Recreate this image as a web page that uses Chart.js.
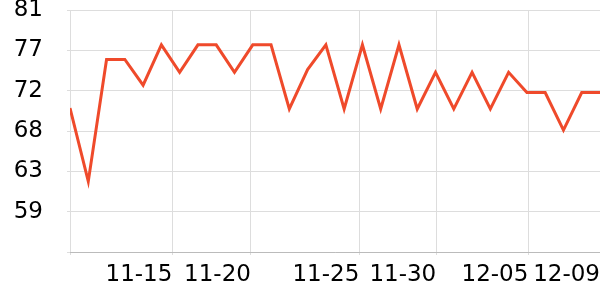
<!DOCTYPE html>
<html>
<head>
<meta charset="utf-8">
<script src="https://cdn.jsdelivr.net/npm/chart.js@4"></script>
<style>
  html, body { margin: 0; padding: 0; background: #fff; }
  #wrap { width: 600px; height: 300px; }
</style>
</head>
<body>
<div id="wrap"><canvas id="tempChart"></canvas></div>
<script>
// One reading per sample, samples are evenly spaced along x
const values = [70.3, 62.3, 75.6, 75.6, 72.8, 77.2, 74.2, 77.2, 77.2, 74.2,
                77.2, 77.2, 70.2, 74.5, 77.2, 70.2, 77.2, 70.2, 77.2, 70.2,
                74.2, 70.2, 74.2, 70.2, 74.2, 72.0, 72.0, 67.9, 72.0, 72.0];

// Date ticks fall between samples, so they are given as sample positions
const xTickPos = [0, 5.6, 9.9, 15.83, 20.04, 25.08, 29];
const xTickLabels = ['', '11-15', '11-20', '11-25', '11-30', '12-05', '12-09'];

// y ticks (labels are rounded)
const yTickPos = [54.6, 59, 63.4, 67.8, 72.2, 76.6, 81];
const yTickLabels = ['', '59', '63', '68', '72', '77', '81'];

const tickFont = { family: 'DejaVu Sans', size: 23 };

document.addEventListener('DOMContentLoaded', () => {
    const ctx = document.getElementById('tempChart');
    new Chart(ctx, {
        type: 'line',
        data: {
            datasets: [{
                data: values.map((v, i) => ({ x: i, y: v })),
                borderColor: '#ef4a2b',
                borderWidth: 3,
                pointRadius: 0,
                tension: 0
            }]
        },
        options: {
            responsive: true,
            maintainAspectRatio: false,
            animation: false,
            layout: { padding: 0 },
            plugins: {
                legend: { display: false },
                tooltip: { enabled: false }
            },
            scales: {
                x: {
                    type: 'linear',
                    min: 0,
                    max: values.length - 1,
                    afterBuildTicks: s => { s.ticks = xTickPos.map(v => ({ value: v })); },
                    afterFit: s => { s.height = 48; s.paddingRight = 0; },
                    ticks: {
                        autoSkip: false,
                        maxRotation: 0,
                        align: 'end',
                        padding: 6,
                        color: '#000',
                        font: tickFont,
                        callback: (v, i) => xTickLabels[i]
                    },
                    grid: { color: '#dddddd', tickLength: 3 },
                    border: { color: '#bbbbbb' }
                },
                y: {
                    min: 54.6,
                    max: 81,
                    afterBuildTicks: s => { s.ticks = yTickPos.map(v => ({ value: v })); },
                    afterFit: s => { s.width = 70; s.paddingTop = 10; },
                    ticks: {
                        padding: 24,
                        color: '#000',
                        font: tickFont,
                        callback: (v, i) => yTickLabels[i]
                    },
                    grid: { color: '#dddddd', tickLength: 3 },
                    border: { display: false }
                }
            }
        }
    });
});
</script>
</body>
</html>
